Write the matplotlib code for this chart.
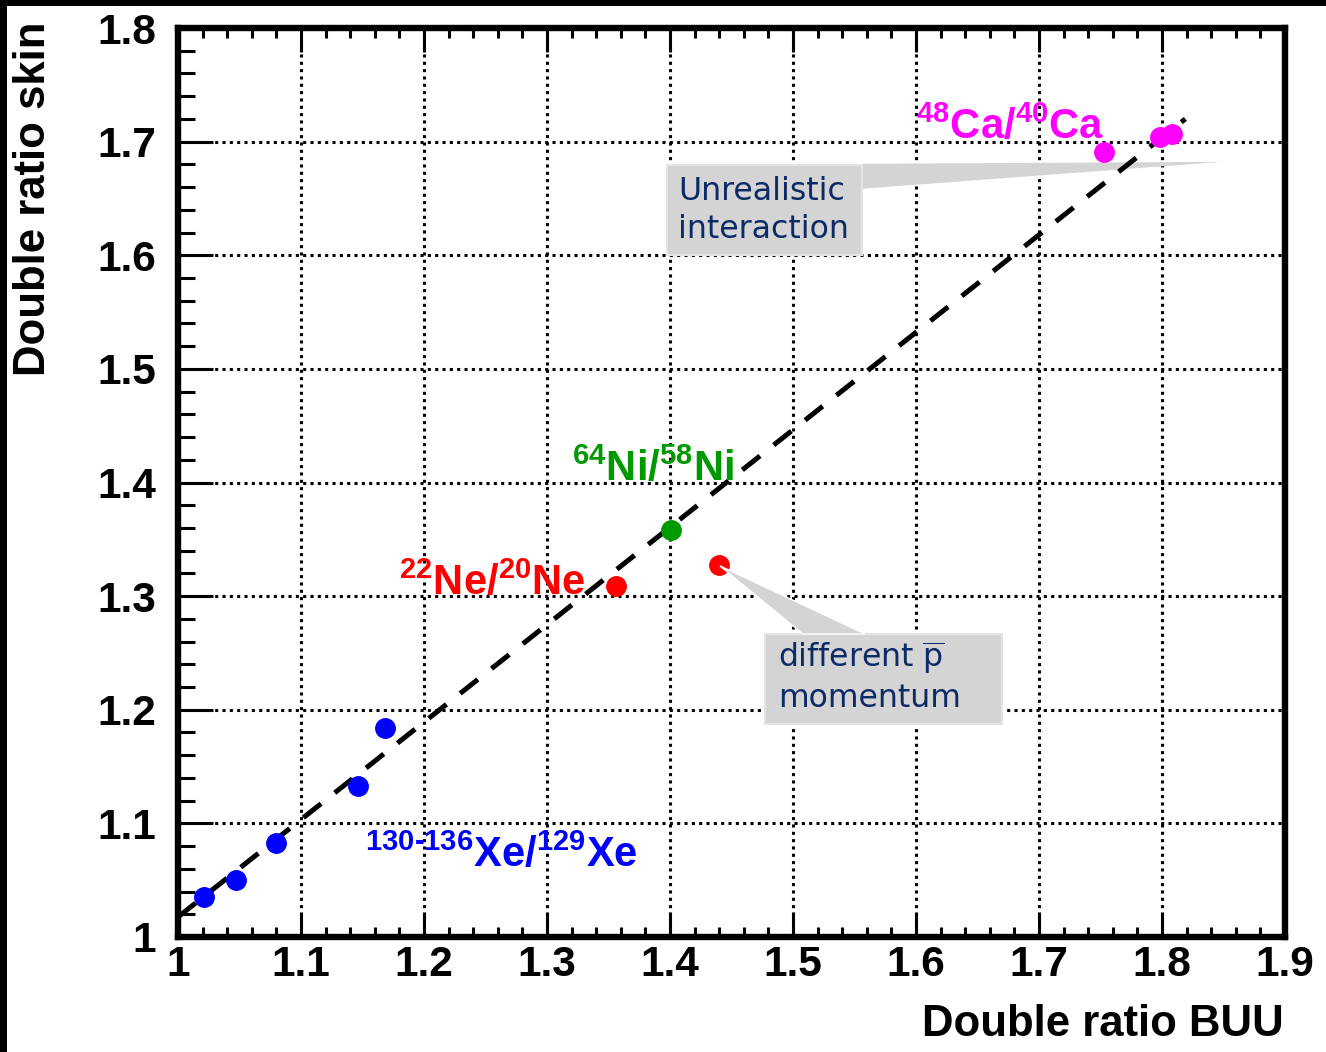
import matplotlib
matplotlib.use("Agg")
import matplotlib.pyplot as plt
from matplotlib.patches import Polygon, Rectangle

plt.rcParams['mathtext.fontset'] = 'custom'
plt.rcParams['mathtext.rm'] = 'Liberation Sans:bold'
plt.rcParams['mathtext.it'] = 'Liberation Sans:bold'
plt.rcParams['mathtext.bf'] = 'Liberation Sans:bold'
plt.rcParams['mathtext.sf'] = 'DejaVu Sans'

# --- data ---
xe_buu = [1.021, 1.047, 1.080, 1.146, 1.168]
xe_skin = [1.035, 1.050, 1.083, 1.133, 1.184]
ne_buu = [1.356]
ne_skin = [1.309]
ne2_buu = [1.440]
ne2_skin = [1.327]
ni_buu = [1.401]
ni_skin = [1.358]
ca_buu = [1.753, 1.798, 1.808]
ca_skin = [1.691, 1.704, 1.707]
fit_x = [1.0, 1.819]
fit_y = [1.0176, 1.720]

xticks = [1.0, 1.1, 1.2, 1.3, 1.4, 1.5, 1.6, 1.7, 1.8, 1.9]
xticklabels = ['1', '1.1', '1.2', '1.3', '1.4', '1.5', '1.6', '1.7', '1.8', '1.9']
yticks = [1.0, 1.1, 1.2, 1.3, 1.4, 1.5, 1.6, 1.7, 1.8]
yticklabels = ['1', '1.1', '1.2', '1.3', '1.4', '1.5', '1.6', '1.7', '1.8']

W, H = 1326, 1052
fig = plt.figure(figsize=(W / 100, H / 100), dpi=100)
ax = fig.add_axes([178 / W, 1 - 937 / H, (1285 - 178) / W, (937 - 28) / H])

ax.set_xlim(1.0, 1.9)
ax.set_ylim(1.0, 1.8)

lab_font = dict(family='Liberation Sans', weight='bold')

ax.set_xticks(xticks, xticklabels, fontsize=30.5, **lab_font)
ax.set_yticks(yticks, yticklabels, fontsize=30.5, **lab_font)
ax.set_xticks([1.0 + 0.02 * i for i in range(46)], minor=True)
ax.set_yticks([1.0 + 0.02 * i for i in range(41)], minor=True)
ax.tick_params(axis='both', which='both', direction='in', width=2.2, color='black')
ax.tick_params(axis='x', which='major', length=17, top=True, pad=6)
ax.tick_params(axis='x', which='minor', length=7, top=True)
ax.tick_params(axis='y', which='major', length=25, right=False, pad=16)
ax.tick_params(axis='y', which='minor', length=12, right=False)
for s in ax.spines.values():
    s.set_linewidth(4.6)

ax.grid(True, which='major', color='black', linestyle=(0, (1, 1.4)), linewidth=2.2)
ax.set_axisbelow(True)

# callout boxes
grey = '#d4d4d4'
edge = '#e4e4e4'
ax.add_patch(Polygon([(1.556, 1.6805), (1.556, 1.6585), (1.8484, 1.6822)], closed=True,
                     facecolor=grey, edgecolor='none', zorder=2))
ax.add_patch(Rectangle((1.3976, 1.600), 1.556 - 1.3976, 1.6796 - 1.600,
                       facecolor=grey, edgecolor=edge, linewidth=1.5, zorder=2))
ax.add_patch(Rectangle((1.4772, 1.1875), 1.6697 - 1.4772, 1.2667 - 1.1875,
                       facecolor=grey, edgecolor=edge, linewidth=1.5, zorder=2))

navy = '#0c2a66'
ax.text(1.4066, 1.6700, 'Unrealistic\ninteraction', fontsize=22.7, family='DejaVu Sans',
        color=navy, ha='left', va='top', linespacing=1.3, zorder=6)
ax.text(1.4876, 1.2615, 'different $\\overline{\\mathsf{p}}$\nmomentum', fontsize=22.7,
        family='DejaVu Sans', color=navy, ha='left', va='top', linespacing=1.24, zorder=6)

# fit line
ax.plot(fit_x, fit_y, color='black', linewidth=3.6, linestyle=(0, (4.5, 3.5)),
        dash_capstyle='butt', zorder=3)

ms = 14
ax.plot(xe_buu, xe_skin, 'o', color='#0000ff', markersize=ms, zorder=4)
ax.plot(ne_buu, ne_skin, 'o', color='#ff0000', markersize=ms, zorder=4)
ax.plot(ne2_buu, ne2_skin, 'o', color='#ff0000', markersize=ms, zorder=4)
ax.plot(ni_buu, ni_skin, 'o', color='#009900', markersize=ms, zorder=4)
ax.plot(ca_buu, ca_skin, 'o', color='#ff00ff', markersize=ms, zorder=4)

# wedge to the second box drawn over the marker
ax.add_patch(Polygon([(1.4406, 1.3266), (1.508, 1.2667), (1.5585, 1.2667)], closed=True,
                     facecolor=grey, edgecolor='white', linewidth=1.0, zorder=5))

# isotope labels
iso = dict(fontsize=30, ha='left', va='baseline', zorder=6, **lab_font)
ax.text(1.600, 1.702, '$^{48}$Ca/$^{40}$Ca', color='#ff00ff', **iso)
ax.text(1.320, 1.4016, '$^{64}$Ni/$^{58}$Ni', color='#009900', **iso)
ax.text(1.180, 1.301, '$^{22}$Ne/$^{20}$Ne', color='#ff0000', **iso)
ax.text(1.152, 1.062, '$^{130\\text{-}136}$Xe/$^{129}$Xe', color='#0000ff', **iso)

# axis titles
fig.text(1284 / W, 1 - 1025 / H, 'Double ratio BUU', fontsize=31.5, ha='right', va='center',
         **lab_font)
fig.text(34 / W, 1 - 22 / H, 'Double ratio skin', fontsize=31.5, rotation=90, ha='center',
         va='top', **lab_font)

# black frame strips on top and left edge
fig.patches.append(Rectangle((0, 1 - 6 / H), 1, 6 / H, transform=fig.transFigure,
                             facecolor='black', edgecolor='none'))
fig.patches.append(Rectangle((0, 0), 7 / W, 1, transform=fig.transFigure,
                             facecolor='black', edgecolor='none'))

fig.savefig('out.png', dpi=100)
